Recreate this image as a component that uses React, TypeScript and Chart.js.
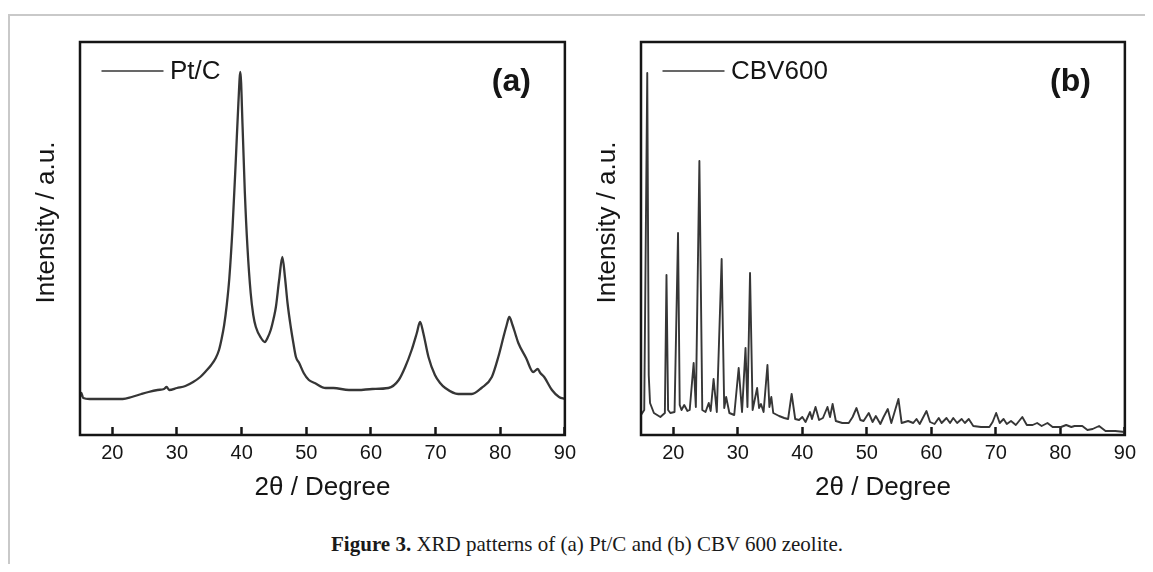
import React, { useEffect, useRef } from "react";
import { Chart, registerables } from "chart.js";

Chart.register(...registerables);

// ---------- data ----------
const xTickValues = [20, 30, 40, 50, 60, 70, 80, 90];

const ptcTheta = [
  15.0, 15.2, 15.5, 16.5, 17.6, 19.0, 20.5, 21.6, 23.0, 24.5, 25.6, 27.0, 28.0, 28.4, 28.8, 30.0, 31.3,
  32.5, 33.6, 34.5, 35.3, 36.0, 36.5, 36.9, 37.3, 37.7, 38.1, 38.6, 39.1, 39.5, 39.8, 40.15, 40.5,
  40.9, 41.4, 41.8, 42.2, 43.0, 43.6, 44.0, 44.5, 45.0, 45.3, 45.8, 46.3, 46.7, 47.1, 47.6,
  48.0, 48.4, 48.9, 49.6, 50.4, 51.3, 53.0, 54.2, 56.6, 58.0, 60.2, 62.7, 64.3, 65.3, 66.3,
  67.1, 67.6, 68.1, 68.9, 69.9, 70.7, 71.5, 73.5, 75.6, 77.1, 78.7, 79.7, 80.5, 81.0, 81.4,
  81.9, 82.3, 82.8, 84.0, 85.1, 85.8, 86.2, 86.8, 88.0, 89.1, 90.0,
];
const ptcIntensity = [
  38, 42, 37, 36, 36, 36, 36, 36, 38, 41, 43, 45, 46, 48, 45, 47, 49,
  53, 58, 64, 70, 77, 85, 96, 110, 130, 157, 208, 275, 332, 363, 308, 242,
  188, 142, 120, 108, 97, 93, 97, 105, 118, 128, 155, 178, 158, 132, 108,
  92, 78, 72, 62, 55, 52, 47, 47, 45, 45, 46, 47, 55, 68, 85,
  102, 113, 102, 78, 60, 52, 47, 41, 41, 47, 58, 78, 98, 110, 118,
  110, 102, 92, 77, 63, 66, 62, 58, 45, 38, 36,
];

const cbvTheta = [
  15.0, 15.5, 15.97, 16.2, 16.4, 17.0, 18.0, 18.7, 18.95, 19.2, 19.55, 20.2, 20.74, 21.0, 21.28,
  21.7, 22.2, 22.55, 23.16, 23.5, 24.05, 24.5, 25.0, 25.5, 25.8, 26.25, 26.75, 27.5, 27.9, 28.2,
  28.7, 29.45, 30.14, 30.66, 31.2, 31.5, 31.9, 32.3, 33.0, 33.3, 33.6, 34.0, 34.6, 34.9, 35.2,
  35.5, 36.4, 37.2, 37.8, 38.35, 38.9, 39.5, 40.0, 40.5, 41.2, 41.5, 42.05, 42.6, 43.2, 43.9,
  44.3, 44.7, 45.2, 46.2, 47.2, 47.8, 48.4, 49.0, 49.5, 50.3, 50.9, 51.4, 52.1, 52.6, 53.25,
  53.8, 54.9, 55.4, 56.4, 57.2, 57.7, 58.2, 59.25, 59.8, 60.5, 61.15, 61.6, 62.35, 62.9, 63.4,
  64.0, 64.7, 65.2, 65.8, 66.5, 67.7, 69.0, 69.5, 70.05, 70.6, 71.2, 71.7, 72.35, 73.1, 74.1,
  74.8, 75.7, 76.4, 77.1, 78.0, 78.8, 80.1, 80.9, 81.7, 82.2, 83.4, 84.2, 85.0, 86.0, 87.0,
  88.5, 90.0,
];
const cbvIntensity = [
  20, 25, 362, 60, 32, 22, 18, 22, 160, 25, 22, 23, 202, 30, 25,
  30, 24, 25, 72, 28, 274, 25, 23, 32, 24, 56, 23, 176, 27, 38,
  22, 20, 67, 23, 87, 28, 162, 25, 47, 27, 31, 23, 70, 28, 38,
  22, 19, 17, 16, 41, 16, 15, 18, 13, 23, 16, 28, 15, 17, 28,
  18, 31, 14, 12, 12, 18, 27, 15, 14, 22, 13, 19, 11, 18, 26,
  12, 36, 12, 14, 12, 16, 11, 24, 13, 11, 17, 12, 17, 12, 17,
  12, 16, 12, 16, 9, 8, 8, 13, 22, 12, 16, 11, 14, 10, 18,
  10, 10, 12, 9, 12, 8, 8, 10, 8, 9, 9, 5, 6, 9, 4,
  4, 3,
];

const xTitle = "2\u03b8 / Degree";
const yTitle = "Intensity / a.u.";

// ---------- styling ----------
const SANS = "'Liberation Sans', Arial, Helvetica, sans-serif";
const SERIF = "'Liberation Serif', 'Times New Roman', serif";
const INK = "#151515";
const LINE = "#363636";

type Panel = {
  label: string;
  letter: string;
  theta: number[];
  intensity: number[];
  canvasLeft: number;
  canvasWidth: number;
  pad: { left: number; top: number; right: number; bottom: number };
  yTitleX: number;
  lineWidth: number;
  smooth: boolean;
};

const panels: Panel[] = [
  {
    label: "Pt/C",
    letter: "(a)",
    theta: ptcTheta,
    intensity: ptcIntensity,
    canvasLeft: 12,
    canvasWidth: 570,
    pad: { left: 60, top: 22, right: 23, bottom: 0 },
    yTitleX: 26.5,
    lineWidth: 2.3,
    smooth: true,
  },
  {
    label: "CBV600",
    letter: "(b)",
    theta: cbvTheta,
    intensity: cbvIntensity,
    canvasLeft: 582,
    canvasWidth: 560,
    pad: { left: 51, top: 22, right: 22, bottom: 0 },
    yTitleX: 18.3,
    lineWidth: 1.9,
    smooth: false,
  },
];

const CANVAS_TOP = 12;
const CANVAS_H = 500;

const decorPlugin = {
  id: "decor",
  afterDatasetsDraw(chart: any, _args: any, opts: any) {
    const { ctx, chartArea: a } = chart;
    const ds = chart.data.datasets[0];
    ctx.save();
    // plot frame
    ctx.strokeStyle = INK;
    ctx.lineWidth = 2.5;
    ctx.strokeRect(a.left, a.top, a.right - a.left, a.bottom - a.top);
    // legend
    ctx.strokeStyle = LINE;
    ctx.lineWidth = 1.4;
    ctx.beginPath();
    ctx.moveTo(a.left + 21.5, a.top + 29);
    ctx.lineTo(a.left + 83.5, a.top + 29);
    ctx.stroke();
    ctx.fillStyle = INK;
    ctx.font = `26px ${SANS}`;
    ctx.textAlign = "left";
    ctx.textBaseline = "middle";
    ctx.fillText(ds.label, a.left + 90, a.top + 30);
    // panel letter
    ctx.font = `bold 32px ${SANS}`;
    ctx.textAlign = "right";
    ctx.fillText(opts.letter, a.right - 34, a.top + 40);
    // y title
    ctx.translate(opts.yTitleX, 202.5);
    ctx.rotate(-Math.PI / 2);
    ctx.font = `26px ${SANS}`;
    ctx.textAlign = "center";
    ctx.fillText(yTitle, 0, 0);
    ctx.restore();
  },
};

function PanelChart({ p }: { p: Panel }) {
  const ref = useRef<HTMLCanvasElement | null>(null);
  useEffect(() => {
    if (!ref.current) return;
    const chart = new Chart(ref.current, {
      type: "line",
      data: {
        datasets: [
          {
            label: p.label,
            data: p.theta.map((t, i) => ({ x: t, y: p.intensity[i] })),
            borderColor: LINE,
            borderWidth: p.lineWidth,
            pointRadius: 0,
            fill: false,
            tension: p.smooth ? 0.3 : 0,
            cubicInterpolationMode: p.smooth ? "monotone" : "default",
            borderJoinStyle: "round",
          },
        ],
      },
      options: {
        animation: false,
        responsive: false,
        maintainAspectRatio: false,
        events: [],
        layout: { padding: p.pad },
        plugins: {
          legend: { display: false },
          tooltip: { enabled: false },
          title: { display: false },
          decor: { letter: p.letter, yTitleX: p.yTitleX },
        } as any,
        scales: {
          x: {
            type: "linear",
            min: 15,
            max: 90,
            afterBuildTicks: (scale: any) => {
              scale.ticks = xTickValues.map((v) => ({ value: v }));
            },
            afterFit: (scale: any) => {
              scale.height = 85;
            },
            border: { display: false },
            grid: {
              display: true,
              drawOnChartArea: false,
              drawTicks: true,
              tickLength: -8,
              tickWidth: 2.5,
              tickColor: INK,
            },
            ticks: {
              color: INK,
              font: { family: SANS, size: 20 },
              padding: 14,
              maxRotation: 0,
              autoSkip: false,
            },
            title: {
              display: true,
              text: xTitle,
              color: INK,
              font: { family: SANS, size: 26 },
              padding: { top: 0, bottom: 16.4 },
            },
          },
          y: {
            type: "linear",
            display: false,
            min: 0,
            max: 393,
          },
        },
      } as any,
      plugins: [decorPlugin],
    });
    return () => chart.destroy();
  }, [p]);
  return (
    <canvas
      ref={ref}
      width={p.canvasWidth}
      height={CANVAS_H}
      style={{
        position: "absolute",
        left: p.canvasLeft,
        top: CANVAS_TOP,
        width: p.canvasWidth,
        height: CANVAS_H,
      }}
    />
  );
}

export default function App() {
  return (
    <div style={{ position: "relative", width: 1137, height: 556, overflow: "hidden" }}>
      <div
        style={{
          position: "absolute",
          left: 0,
          top: 6,
          width: 1137,
          height: 0,
          borderTop: "2px solid #c9c9c9",
        }}
      />
      <div
        style={{
          position: "absolute",
          left: 0,
          top: 6,
          width: 0,
          height: 550,
          borderLeft: "2px solid #c9c9c9",
        }}
      />
      {panels.map((p) => (
        <PanelChart key={p.letter} p={p} />
      ))}
      <div
        style={{
          position: "absolute",
          left: 579,
          top: 524,
          transform: "translateX(-50%)",
          whiteSpace: "nowrap",
          fontFamily: SERIF,
          fontSize: 21,
          lineHeight: "24px",
          color: "#1a1a1a",
        }}
      >
        <b>Figure 3.</b> XRD patterns of (a) Pt/C and (b) CBV 600 zeolite.
      </div>
    </div>
  );
}
